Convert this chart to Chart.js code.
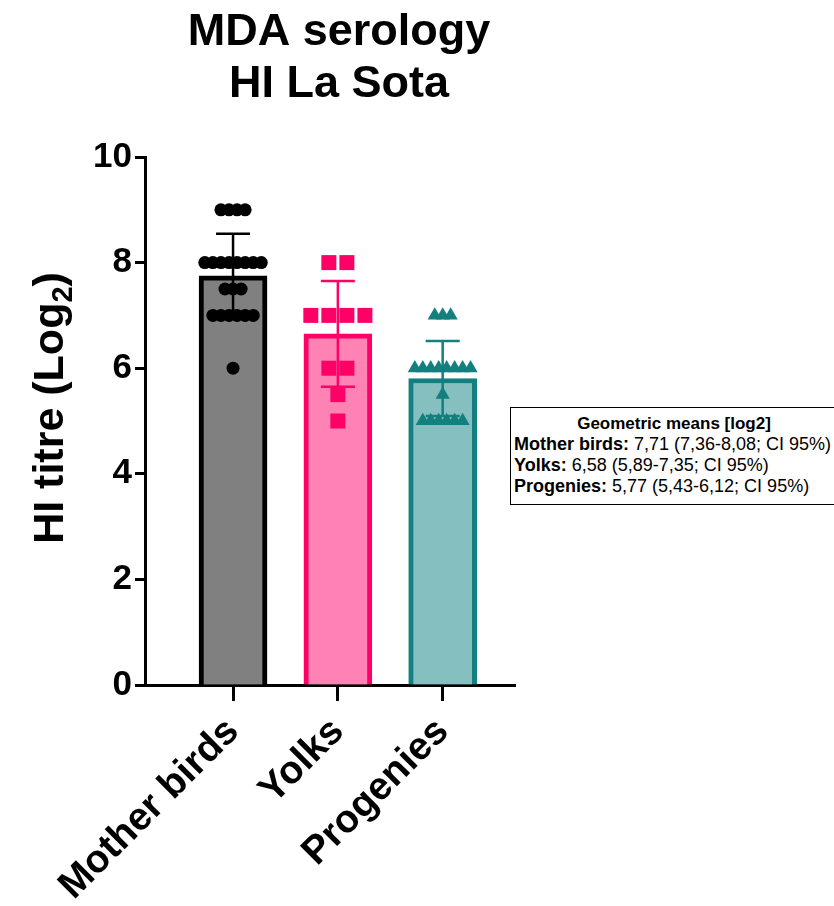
<!DOCTYPE html>
<html><head><meta charset="utf-8">
<script src="https://cdn.jsdelivr.net/npm/chart.js@4/dist/chart.umd.min.js"></script>
<style>
html,body{margin:0;padding:0;background:#fff;}
#wrap{position:relative;width:834px;height:906px;overflow:hidden;}
#legendBox{position:absolute;left:510px;top:407px;width:320px;height:91px;border:1px solid #000;
 font-family:"Liberation Sans",Arial,sans-serif;font-size:18px;line-height:21px;color:#000;background:#fff;
 padding:5px 0 0 3px;white-space:nowrap;}
#legendBox .t{text-align:center;font-weight:bold;font-size:17px;}
</style></head><body>
<div id="wrap"><canvas id="c" width="834" height="906"></canvas><div id="legendBox"></div></div>
<script>
// ---- data ----
const categories = ['Mother birds', 'Yolks', 'Progenies'];
const motherBirds = [9, 9, 9, 9, 8, 8, 8, 8, 8, 8, 8, 8, 7.5, 7.5, 7.5, 7, 7, 7, 7, 7, 7, 6];
const yolks = [8, 8, 7, 7, 7, 7, 6, 6, 5.5, 5];
const progenies = [7, 7, 7, 6, 6, 6, 6, 6, 6, 6, 6, 5.5, 5, 5, 5, 5, 5, 5];
const geoMeans = ['7,71', '6,58', '5,77'];
const ciLow = ['7,36', '5,89', '5,43'];
const ciHigh = ['8,08', '7,35', '6,12'];
const yTicks = [0, 2, 4, 6, 8, 10];

// ---- styling ----
const FONT = '"Liberation Sans", Arial, sans-serif';
const fills = ['#808080', '#FF82B4', '#86BFBF'];
const strokes = ['#000000', '#FF0066', '#137F7F'];
const pointStyles = ['circle', 'rect', 'triangle'];
const pointRadii = [6.5, 10.6, 8.2];
const rowSpacing = [0.077, 0.172, 0.076]; // horizontal spacing of tied points (x units)

const groups = [motherBirds, yolks, progenies];
const mean = a => a.reduce((s, v) => s + v, 0) / a.length;
const sd = a => { const m = mean(a); return Math.sqrt(a.reduce((s, v) => s + (v - m) ** 2, 0) / (a.length - 1)); };
const means = groups.map(mean);
const sds = groups.map(sd);

function swarm(values, idx, spacing) {
  const counts = {}, seen = {};
  values.forEach(v => counts[v] = (counts[v] || 0) + 1);
  return values.map(v => {
    const k = seen[v] = (seen[v] || 0) + 1;
    return { x: idx + (k - 1 - (counts[v] - 1) / 2) * spacing, y: v };
  });
}

// legend box text
const lb = document.getElementById('legendBox');
let html = '<div class="t">Geometric means [log2]</div>';
categories.forEach((c, i) => {
  html += '<div><b>' + c + ':</b> ' + geoMeans[i] + ' (' + ciLow[i] + '-' + ciHigh[i] + '; CI 95%)</div>';
});
lb.innerHTML = html;

const errorBars = {
  id: 'errorBars',
  afterDatasetsDraw(chart) {
    const { ctx, scales: { x, y } } = chart;
    ctx.save();
    ctx.lineWidth = 2.5;
    groups.forEach((g, i) => {
      const px = x.getPixelForValue(i);
      const t = y.getPixelForValue(means[i] + sds[i]);
      const b = y.getPixelForValue(means[i] - sds[i]);
      ctx.strokeStyle = strokes[i];
      ctx.beginPath();
      ctx.moveTo(px, t); ctx.lineTo(px, b);
      ctx.moveTo(px - 17, t); ctx.lineTo(px + 17, t);
      ctx.moveTo(px - 17, b); ctx.lineTo(px + 17, b);
      ctx.stroke();
    });
    ctx.restore();
  }
};

const titles = {
  id: 'titles',
  afterDraw(chart) {
    const ctx = chart.ctx;
    ctx.save();
    ctx.fillStyle = '#000';
    ctx.textAlign = 'center';
    ctx.textBaseline = 'alphabetic';
    ctx.font = 'bold 45px ' + FONT;
    ctx.fillText('MDA serology', 339, 45);
    ctx.fillText('HI La Sota', 339, 97);
    // y axis title with subscript
    ctx.translate(63, 408);
    ctx.rotate(-Math.PI / 2);
    const main = 'HI titre (Log', sub = '2', close = ')';
    ctx.font = 'bold 43px ' + FONT;
    const w1 = ctx.measureText(main).width, w3 = ctx.measureText(close).width;
    ctx.font = 'bold 29px ' + FONT;
    const w2 = ctx.measureText(sub).width;
    const total = w1 + w2 + w3;
    let xs = -total / 2;
    ctx.textAlign = 'left';
    ctx.font = 'bold 43px ' + FONT;
    ctx.fillText(main, xs, 0); xs += w1;
    ctx.font = 'bold 29px ' + FONT;
    ctx.fillText(sub, xs, 9); xs += w2;
    ctx.font = 'bold 43px ' + FONT;
    ctx.fillText(close, xs, 0);
    ctx.restore();
  }
};

const datasets = [{
  type: 'bar',
  data: categories.map((c, i) => ({ x: i, y: means[i] })),
  backgroundColor: fills,
  borderColor: strokes,
  borderWidth: 5,
  barThickness: 68,
  order: 5
}];
groups.forEach((g, i) => {
  datasets.push({
    type: 'scatter',
    data: swarm(g, i, rowSpacing[i]),
    pointStyle: pointStyles[i],
    pointRadius: pointRadii[i],
    backgroundColor: strokes[i],
    borderWidth: 0,
    order: 1
  });
});

new Chart(document.getElementById('c'), {
  type: 'bar',
  data: { datasets },
  options: {
    responsive: false,
    animation: false,
    layout: { padding: { top: 157, right: 319, left: 0, bottom: 0 } },
    plugins: { legend: { display: false }, tooltip: { enabled: false }, title: { display: false } },
    scales: {
      x: {
        type: 'linear', min: -0.84, max: 2.69, offset: false,
        afterBuildTicks: s => { s.ticks = categories.map((c, i) => ({ value: i })); },
        afterFit: s => { s.height = 221; },
        ticks: {
          autoSkip: false, minRotation: 45, maxRotation: 45, padding: 8,
          color: '#000', font: { family: FONT, size: 39, weight: 'bold' },
          callback: v => categories[v]
        },
        grid: { display: true, offset: false, drawOnChartArea: false, drawTicks: true, tickLength: 16, tickWidth: 3, tickColor: '#000' },
        border: { display: true, color: '#000', width: 3 }
      },
      y: {
        min: 0, max: 10,
        afterBuildTicks: s => { s.ticks = yTicks.map(v => ({ value: v })); },
        afterFit: s => { s.width = 145; },
        ticks: { color: '#000', padding: 3, font: { family: FONT, size: 35, weight: 'bold' } },
        grid: { display: true, drawOnChartArea: false, drawTicks: true, tickLength: 10, tickWidth: 3, tickColor: '#000' },
        border: { display: true, color: '#000', width: 3 }
      }
    }
  },
  plugins: [errorBars, titles]
});
</script>
</body></html>
